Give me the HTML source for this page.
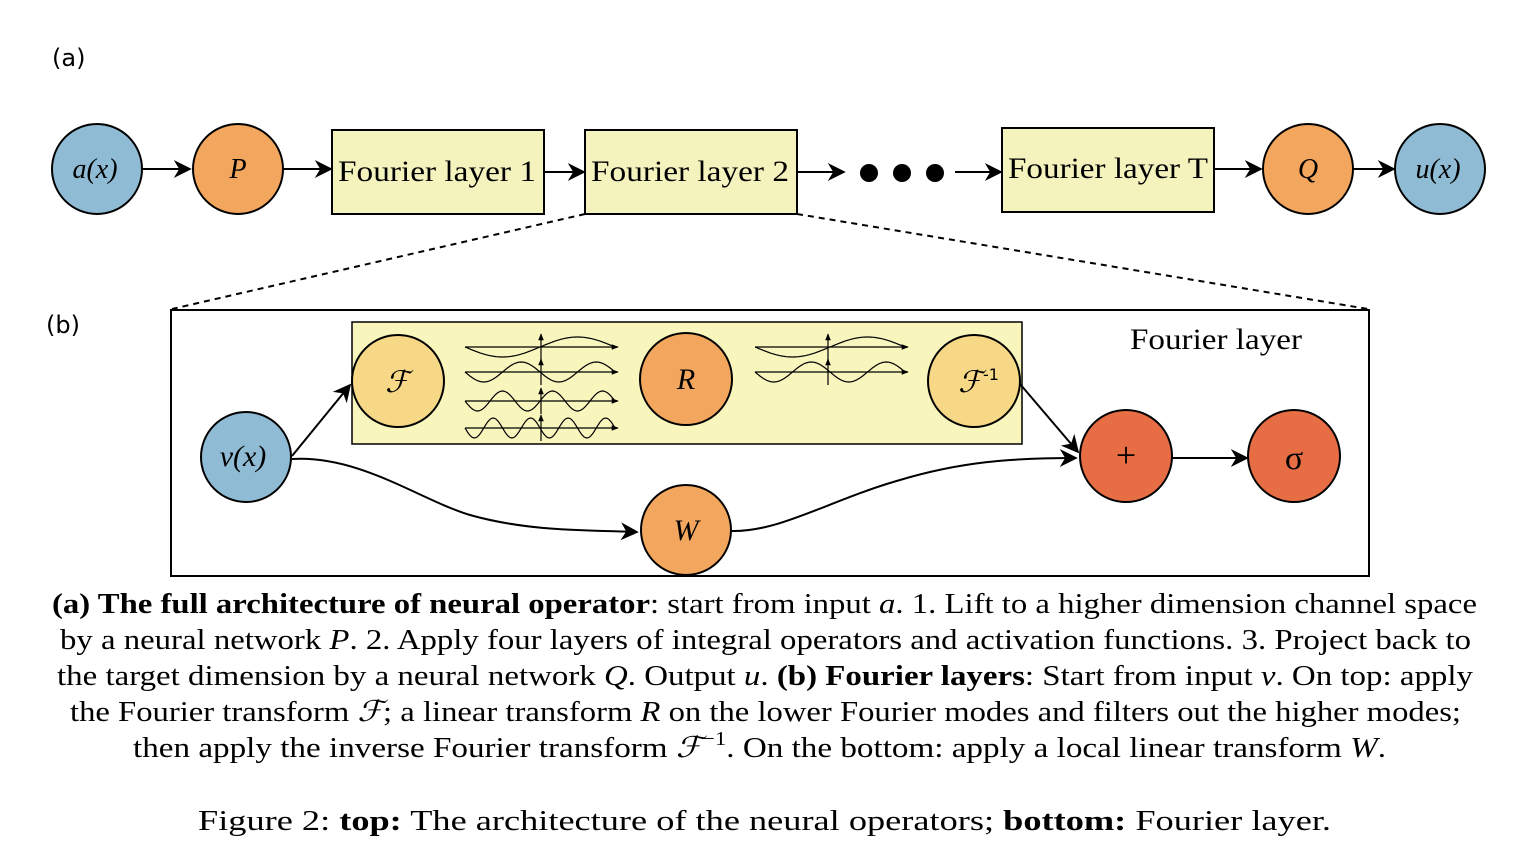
<!DOCTYPE html>
<html><head><meta charset="utf-8"><style>
html,body{margin:0;padding:0;background:#fff;}
svg{display:block}
.sans{font-family:"DejaVu Sans","Liberation Sans",sans-serif;}
.ser{font-family:"Liberation Serif",serif;}
</style></head><body>
<svg id="s" width="1515" height="854" viewBox="0 0 1515 854" xmlns="http://www.w3.org/2000/svg">
<defs>
<marker id="ar2" viewBox="0 0 10 10" refX="9" refY="5" markerWidth="18" markerHeight="18" orient="auto" markerUnits="userSpaceOnUse"><path d="M0,0 L10,5 L0,10 L3,5 z" fill="#000"/></marker>
<marker id="sa" viewBox="0 0 10 10" refX="9" refY="5" markerWidth="7" markerHeight="7" orient="auto" markerUnits="userSpaceOnUse"><path d="M0,1 L10,5 L0,9 z" fill="#000"/></marker>
</defs>
<text x="52" y="66" font-size="24" class="sans">(a)</text>
<text x="46" y="333" font-size="24" class="sans">(b)</text>
<g stroke="#000" stroke-width="2">
<circle cx="97" cy="169" r="45" fill="#8fbcd4"/>
<circle cx="238" cy="169" r="45" fill="#f2a65e"/>
<rect x="332" y="130" width="212" height="84" fill="#f4f2bd"/>
<rect x="585" y="130" width="212" height="84" fill="#f4f2bd"/>
<rect x="1002" y="128" width="212" height="84" fill="#f4f2bd"/>
<circle cx="1308" cy="169" r="45" fill="#f2a65e"/>
<circle cx="1440" cy="169" r="45" fill="#8fbcd4"/>
<line x1="143" y1="169" x2="190" y2="169" marker-end="url(#ar2)"/>
<line x1="284" y1="169" x2="331" y2="169" marker-end="url(#ar2)"/>
<line x1="544" y1="172" x2="584" y2="172" marker-end="url(#ar2)"/>
<line x1="797" y1="172" x2="844" y2="172" marker-end="url(#ar2)"/>
<line x1="955" y1="172" x2="1001" y2="172" marker-end="url(#ar2)"/>
<line x1="1214" y1="169" x2="1261" y2="169" marker-end="url(#ar2)"/>
<line x1="1353" y1="169" x2="1394" y2="169" marker-end="url(#ar2)"/>
</g>
<circle cx="869" cy="173" r="9"/><circle cx="902" cy="173" r="9"/><circle cx="935" cy="173" r="9"/>
<g font-size="28" class="ser" font-style="italic" text-anchor="middle">
<text x="95" y="178">a(x)</text><text x="238" y="178">P</text>
<text x="1308" y="178">Q</text><text x="1438" y="178">u(x)</text>
</g>
<g font-size="30" class="ser">
<text x="338" y="181" textLength="198" lengthAdjust="spacingAndGlyphs">Fourier layer 1</text>
<text x="591" y="181" textLength="198" lengthAdjust="spacingAndGlyphs">Fourier layer 2</text>
<text x="1008" y="178" textLength="200" lengthAdjust="spacingAndGlyphs">Fourier layer T</text>
</g>
<g stroke="#000" stroke-width="2" stroke-dasharray="6,5">
<line x1="585" y1="214" x2="172" y2="309"/><line x1="797" y1="214" x2="1368" y2="309"/>
</g>
<rect x="171" y="310" width="1198" height="266" fill="none" stroke="#000" stroke-width="2"/>
<rect x="352" y="322" width="670" height="122" fill="#f8f5bd" stroke="#000" stroke-width="1.5"/>
<text x="1130" y="349" font-size="30" class="ser" textLength="172" lengthAdjust="spacingAndGlyphs">Fourier layer</text>
<g id="waves" stroke="#000" stroke-width="1.2" fill="none"></g>
<g stroke="#000" stroke-width="2">
<circle cx="246" cy="457" r="45" fill="#8fbcd4"/>
<circle cx="398" cy="381" r="46" fill="#f6d886"/>
<circle cx="686" cy="379" r="46" fill="#f2a65e"/>
<circle cx="974" cy="381" r="46" fill="#f6d886"/>
<circle cx="686" cy="530" r="45" fill="#f2a65e"/>
<circle cx="1126" cy="456" r="46" fill="#e66d44"/>
<circle cx="1294" cy="456" r="46" fill="#e66d44"/>
<line x1="292" y1="456" x2="350" y2="385" marker-end="url(#ar2)"/>
<line x1="1020" y1="384" x2="1078" y2="452" marker-end="url(#ar2)"/>
<line x1="1172" y1="458" x2="1247" y2="458" marker-end="url(#ar2)"/>
<path d="M292,459 C360,455 420,500 470,515 C530,532 590,530 637,532" fill="none" marker-end="url(#ar2)"/>
<path d="M732,531 C780,532 830,500 900,480 C960,462 1010,458 1076,458" fill="none" marker-end="url(#ar2)"/>
</g>
<g class="ser" font-style="italic" font-size="30" text-anchor="middle">
<text x="243" y="466">v(x)</text><text x="686" y="389">R</text><text x="686" y="540">W</text>
<text x="397" y="392">ℱ</text><text x="970" y="392">ℱ</text>
</g>
<text x="983" y="380" font-size="16" class="sans">-1</text>
<text x="1126" y="467" font-size="36" class="ser" text-anchor="middle">+</text>
<text x="1294" y="469" font-size="34" class="ser" text-anchor="middle">σ</text>
<g class="ser" font-size="29">
<text x="52" y="613" textLength="1425" lengthAdjust="spacingAndGlyphs"><tspan font-weight="bold">(a) The full architecture of neural operator</tspan>: start from input <tspan font-style="italic">a</tspan>. 1. Lift to a higher dimension channel space</text>
<text x="60" y="649" textLength="1411" lengthAdjust="spacingAndGlyphs">by a neural network <tspan font-style="italic">P</tspan>. 2. Apply four layers of integral operators and activation functions. 3. Project back to</text>
<text x="57" y="685" textLength="1416" lengthAdjust="spacingAndGlyphs">the target dimension by a neural network <tspan font-style="italic">Q</tspan>. Output <tspan font-style="italic">u</tspan>. <tspan font-weight="bold">(b) Fourier layers</tspan>: Start from input <tspan font-style="italic">v</tspan>. On top: apply</text>
<text x="70" y="721" textLength="1391" lengthAdjust="spacingAndGlyphs">the Fourier transform <tspan font-style="italic">ℱ</tspan>; a linear transform <tspan font-style="italic">R</tspan> on the lower Fourier modes and filters out the higher modes;</text>
<text x="133" y="757" textLength="1253" lengthAdjust="spacingAndGlyphs">then apply the inverse Fourier transform <tspan font-style="italic">ℱ</tspan><tspan dy="-12" font-size="20">−1</tspan><tspan dy="12">. On the bottom: apply a local linear transform </tspan><tspan font-style="italic">W</tspan>.</text>
<text x="198" y="830" textLength="1133" lengthAdjust="spacingAndGlyphs">Figure 2: <tspan font-weight="bold">top:</tspan> The architecture of the neural operators; <tspan font-weight="bold">bottom:</tspan> Fourier layer.</text>
</g>
</svg>
<script>
(function(){
var g=document.getElementById('waves'),NS='http://www.w3.org/2000/svg';
function add(tag,a){var e=document.createElementNS(NS,tag);for(var k in a)e.setAttribute(k,a[k]);g.appendChild(e);return e;}
function group(x0,x1,ax,rows){
 rows.forEach(function(r){
  var y=r[0],n=r[1],pts=[];
  for(var i=0;i<=120;i++){var t=i/120,x=x0+t*(x1-x0);pts.push(x.toFixed(1)+','+(y+10*Math.sin(2*Math.PI*n*t)).toFixed(1));}
  add('polyline',{points:pts.join(' ')});
  add('line',{x1:x0,y1:y,x2:x1+3,y2:y,'marker-end':'url(#sa)'});
  add('line',{x1:ax,y1:y+13,x2:ax,y2:y-13,'marker-end':'url(#sa)'});
 });
}
group(465,615,541,[[347,1],[372,2],[401,3],[428,4]]);
group(755,905,828,[[347,1],[372,2]]);
})();
</script>
</body></html>
